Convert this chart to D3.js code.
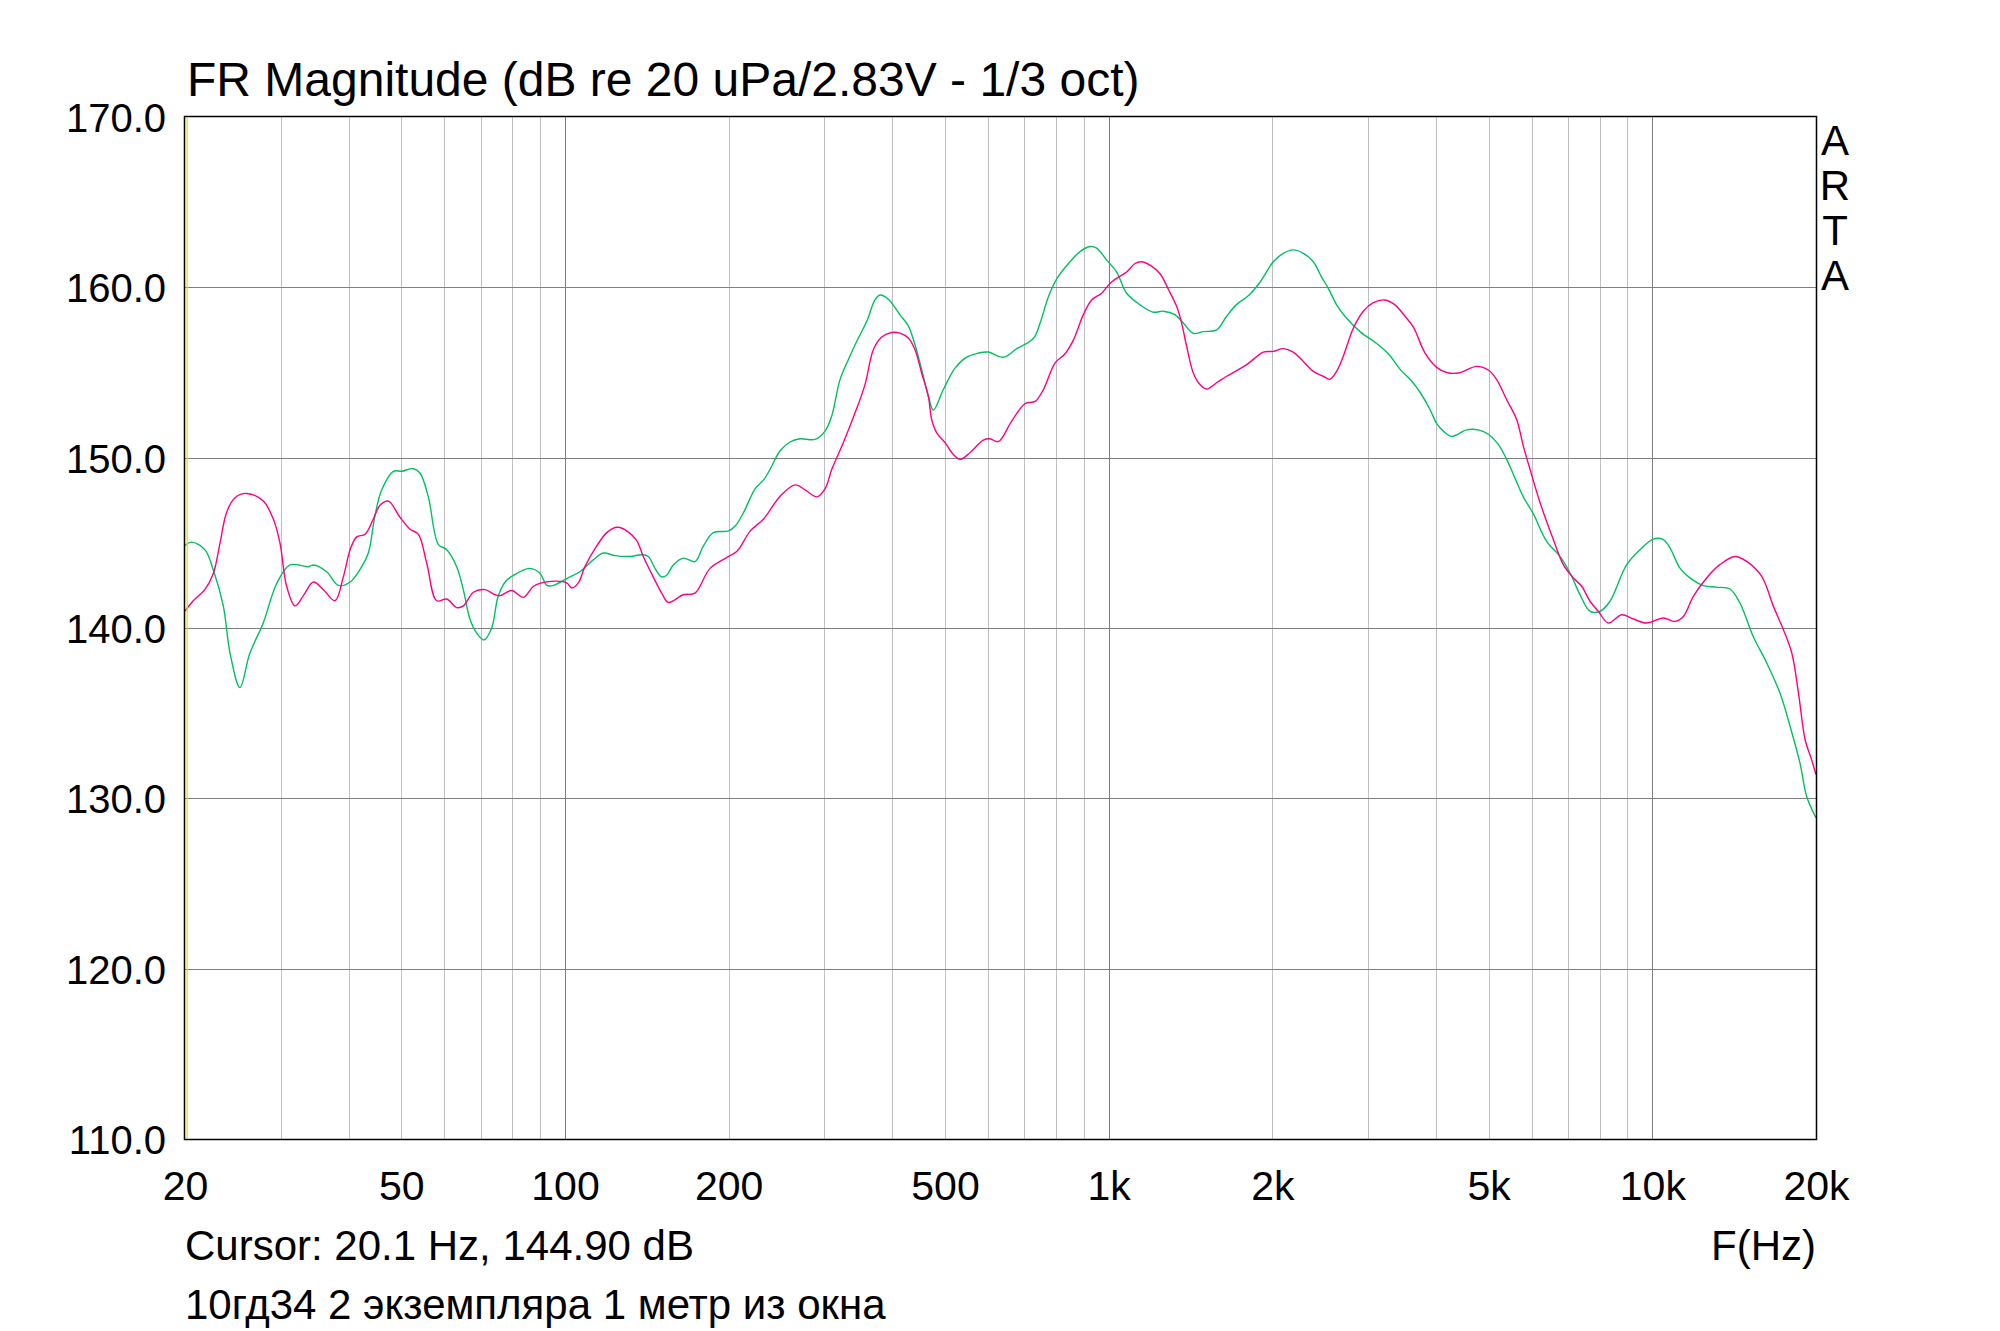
<!DOCTYPE html>
<html>
<head>
<meta charset="utf-8">
<script src="https://cdn.jsdelivr.net/npm/d3@7"></script>
<style>
  html, body { margin: 0; padding: 0; background: #ffffff; }
  svg { display: block; }
  text { font-family: "Liberation Sans", Arial, sans-serif; fill: #000; }
</style>
</head>
<body>
<svg id="chart" width="2000" height="1331"></svg>
<script>
// ---------- data ----------
const titleText = "FR Magnitude (dB re 20 uPa/2.83V - 1/3 oct)";
const cursorText = "Cursor: 20.1 Hz, 144.90 dB";
const noteText = "10гд34 2 экземпляра 1 метр из окна";
const xAxisName = "F(Hz)";
const brandLetters = ["A", "R", "T", "A"];

const xTickValues = [20, 50, 100, 200, 500, 1000, 2000, 5000, 10000, 20000];
const xTickLabels = ["20", "50", "100", "200", "500", "1k", "2k", "5k", "10k", "20k"];
const yTickValues = [110, 120, 130, 140, 150, 160, 170];
const yTickLabels = ["110.0", "120.0", "130.0", "140.0", "150.0", "160.0", "170.0"];
const xMajorGrid = [100, 1000, 10000];
const cursorFreq = 20.1;

const greenFreq = [20, 20.57, 21.75, 22.55, 23.52, 24.21, 25.24, 26.31, 27.86, 29.48, 31.2, 33.73, 34.45, 36.45, 38.29, 40.25, 42.27, 43.48, 44.72, 46.0, 48.33, 50.05, 52.6, 54.1, 56.05, 58.5, 60.6, 63.2, 65.0, 66.9, 68.8, 70.96, 73.3, 75.4, 78.1, 81.5, 86.2, 90.0, 92.6, 95.2, 100.7, 106.5, 112.7, 117.6, 123.6, 131.7, 138.4, 142.3, 146.4, 150.6, 153.8, 158.2, 165.0, 173.4, 179.6, 187.4, 200, 205.8, 213.2, 223.9, 231.9, 238.2, 248.5, 259.3, 270.5, 288.1, 300.8, 309.4, 320.5, 332.0, 343.9, 358.8, 371.6, 379.6, 393.3, 413.2, 428.0, 440.3, 452.9, 465.9, 475.9, 496.5, 521.6, 548.1, 576, 600.7, 640.2, 677.6, 727, 747.9, 774.7, 802.5, 848.9, 885.7, 923.9, 950.4, 991.6, 1034.5, 1079, 1142, 1208, 1260, 1324, 1372, 1431, 1493, 1580, 1648, 1720, 1806, 1898, 2008, 2095, 2185, 2280, 2379, 2464, 2535, 2626, 2720, 2899, 3111, 3269, 3434, 3608, 3738, 3900, 4012, 4126, 4275, 4555, 4786, 5000, 5208, 5396, 5590, 5790, 6041, 6391, 6763, 7056, 7361, 7680, 8012, 8359, 8970, 9493, 10040, 10477, 10776, 11240, 11727, 12408, 13124, 13888, 14490, 15330, 16230, 17170, 17920, 18690, 19220, 20000];
const greenDb = [144.84, 145.04, 144.6, 143.4, 141.3, 138.5, 136.5, 138.5, 140.3, 142.6, 143.7, 143.6, 143.7, 143.3, 142.5, 142.7, 143.6, 144.4, 146.6, 148.1, 149.2, 149.2, 149.35, 149.1, 147.7, 144.9, 144.6, 143.6, 142.25, 140.5, 139.7, 139.3, 140.0, 141.9, 142.8, 143.2, 143.5, 143.2, 142.5, 142.5, 142.9, 143.3, 144.0, 144.4, 144.25, 144.2, 144.3, 144.2, 143.5, 143.0, 143.1, 143.7, 144.1, 143.9, 144.8, 145.6, 145.7, 146.0, 146.8, 148.2, 148.7, 149.3, 150.39, 150.92, 151.11, 151.07, 151.56, 152.44, 154.58, 155.75, 156.82, 157.99, 159.26, 159.55, 159.3, 158.38, 157.74, 156.63, 155.17, 153.61, 152.79, 154.0, 155.26, 155.9, 156.14, 156.2, 155.9, 156.4, 157.0, 157.9, 159.45, 160.5, 161.5, 162.1, 162.4, 162.3, 161.6, 160.9, 159.65, 158.97, 158.54, 158.6, 158.4, 157.9, 157.3, 157.4, 157.5, 158.3, 159.0, 159.5, 160.3, 161.5, 162.0, 162.2, 162.0, 161.5, 160.6, 159.94, 158.97, 158.3, 157.4, 156.7, 156.1, 155.2, 154.5, 153.84, 152.83, 152.0, 151.56, 151.25, 151.63, 151.63, 151.36, 150.78, 149.9, 148.8, 147.7, 146.7, 145.09, 144.2, 143.23, 141.96, 140.98, 140.98, 141.57, 143.72, 144.6, 145.22, 145.19, 144.7, 143.52, 142.94, 142.49, 142.4, 142.29, 141.47, 139.5, 137.95, 136.18, 134.23, 132.07, 130.12, 128.85];

const magentaFreq = [20, 20.71, 21.75, 22.55, 23.2, 23.86, 24.72, 25.97, 27.86, 29.07, 29.9, 30.76, 31.87, 33.02, 34.45, 35.94, 37.75, 39.11, 40.25, 41.39, 42.88, 44.41, 45.68, 47.32, 49.72, 51.87, 53.74, 55.68, 58.07, 60.6, 63.2, 65.0, 67.84, 71.28, 74.36, 75.95, 79.8, 83.8, 87.5, 90.6, 96.5, 100.7, 102.9, 105.8, 108.8, 114.3, 119.3, 123.6, 126.2, 129.9, 135.4, 139.3, 145.3, 150.6, 154.9, 165.0, 173.4, 184.8, 200, 207.2, 219.2, 231.9, 248.9, 265.2, 276.8, 290.7, 301.1, 309.4, 325, 341.6, 356.3, 369.1, 382.4, 399.0, 413.2, 428, 440.3, 452.9, 465.9, 472.5, 482.7, 500.1, 518, 532.8, 555.7, 588, 604.9, 626.7, 663.1, 702, 732.3, 758.5, 797, 831.3, 861.1, 898.3, 930.5, 970.7, 1005, 1042, 1079, 1118, 1150, 1191, 1243, 1287, 1334, 1362, 1392, 1431, 1472, 1514, 1580, 1648, 1794, 1925, 2008, 2095, 2185, 2280, 2379, 2481, 2552, 2626, 2701, 2818, 2940, 3067, 3222, 3362, 3508, 3635, 3819, 4012, 4186, 4397, 4752, 5000, 5172, 5396, 5629, 5790, 5956, 6214, 6575, 6859, 7155, 7413, 7680, 7955, 8299, 8781, 9228, 9763, 10477, 11007, 11403, 11896, 12585, 13312, 14190, 14910, 15890, 16700, 17420, 18050, 18570, 19100, 19630, 20000];
const magentaDb = [141.0, 141.6, 142.25, 143.2, 145.0, 146.8, 147.65, 147.9, 147.45, 146.4, 145.0, 142.45, 141.3, 141.9, 142.7, 142.25, 141.6, 143.0, 144.6, 145.35, 145.5, 146.4, 147.2, 147.45, 146.5, 145.8, 145.5, 143.8, 141.6, 141.7, 141.2, 141.3, 142.1, 142.25, 141.95, 141.9, 142.2, 141.8, 142.45, 142.65, 142.75, 142.65, 142.35, 142.65, 143.6, 144.8, 145.6, 145.9, 145.9, 145.7, 145.15, 144.2, 143.0, 142.05, 141.5, 141.95, 142.05, 143.5, 144.2, 144.5, 145.7, 146.4, 147.75, 148.4, 148.1, 147.7, 148.2, 149.3, 150.88, 152.63, 154.29, 156.34, 157.08, 157.35, 157.31, 157.02, 156.34, 154.97, 153.61, 152.24, 151.46, 150.88, 150.19, 149.9, 150.29, 151.03, 151.11, 150.94, 152.14, 153.18, 153.3, 154.0, 155.56, 156.1, 156.9, 158.4, 159.26, 159.65, 160.23, 160.6, 160.9, 161.4, 161.5, 161.3, 160.8, 159.9, 158.87, 157.9, 156.5, 154.97, 154.29, 154.03, 154.4, 154.78, 155.46, 156.2, 156.24, 156.4, 156.2, 155.65, 155.07, 154.78, 154.6, 155.07, 155.95, 157.6, 158.6, 159.1, 159.26, 158.97, 158.3, 157.66, 156.14, 155.3, 155.0, 154.97, 155.36, 155.13, 154.58, 153.4, 152.24, 150.68, 149.32, 147.37, 145.19, 143.72, 142.94, 142.45, 141.57, 140.98, 140.29, 140.78, 140.53, 140.29, 140.59, 140.39, 140.68, 141.86, 142.94, 143.72, 144.2, 143.91, 143.03, 141.27, 139.9, 138.53, 136.18, 133.44, 132.27, 131.39];

// ---------- layout ----------
const plot = { left: 185, right: 1816, top: 117, bottom: 1139 };

const svg = d3.select("#chart");
const x = d3.scaleLog().domain([20, 20000]).range([plot.left, plot.right]);
const y = d3.scaleLinear().domain([110, 170]).range([plot.bottom, plot.top]);

// grid: minor verticals
const gridFreqs = x.ticks().filter(f => f > 20 && f < 20000 && xMajorGrid.indexOf(f) < 0);
svg.append("g").selectAll("line").data(gridFreqs).join("line")
  .attr("x1", d => Math.round(x(d)) + 0.5).attr("x2", d => Math.round(x(d)) + 0.5)
  .attr("y1", plot.top).attr("y2", plot.bottom)
  .attr("stroke", "#c0c0c0").attr("stroke-width", 1);

// major verticals
svg.append("g").selectAll("line").data(xMajorGrid).join("line")
  .attr("x1", d => Math.round(x(d)) + 0.5).attr("x2", d => Math.round(x(d)) + 0.5)
  .attr("y1", plot.top).attr("y2", plot.bottom)
  .attr("stroke", "#808080").attr("stroke-width", 1);

// horizontals
svg.append("g").selectAll("line").data(yTickValues.slice(1, -1)).join("line")
  .attr("x1", plot.left).attr("x2", plot.right)
  .attr("y1", d => Math.round(y(d)) + 0.5).attr("y2", d => Math.round(y(d)) + 0.5)
  .attr("stroke", "#808080").attr("stroke-width", 1);

// series
const line = d3.line()
  .x(d => x(d[0])).y(d => y(d[1]))
  .curve(d3.curveCatmullRom.alpha(0.5));

const greenPts = greenFreq.map((f, i) => [f, greenDb[i]]);
const magentaPts = magentaFreq.map((f, i) => [f, magentaDb[i]]);

svg.append("path").datum(greenPts).attr("d", line)
  .attr("fill", "none").attr("stroke", "#00c060").attr("stroke-width", 1.4);
svg.append("path").datum(magentaPts).attr("d", line)
  .attr("fill", "none").attr("stroke", "#ff0080").attr("stroke-width", 1.4);

// frame
svg.append("rect")
  .attr("x", plot.left - 0.5).attr("y", plot.top - 0.5)
  .attr("width", plot.right - plot.left + 1).attr("height", plot.bottom - plot.top + 1)
  .attr("fill", "none").attr("stroke", "#000").attr("stroke-width", 1.5);

// cursor
svg.append("line")
  .attr("x1", x(cursorFreq) + 1).attr("x2", x(cursorFreq) + 1)
  .attr("y1", plot.top + 1).attr("y2", plot.bottom - 1)
  .attr("stroke", "#e0e000").attr("stroke-width", 1.2);

// x axis labels
const xAxis = d3.axisBottom(x).tickValues(xTickValues)
  .tickFormat((d, i) => xTickLabels[i]).tickSize(0).tickPadding(0);
const gx = svg.append("g").attr("transform", `translate(0,${plot.bottom})`).call(xAxis);
gx.select(".domain").remove();
gx.selectAll("text").attr("font-size", 41).attr("dy", null).attr("y", 61)
  .attr("font-family", "Liberation Sans, Arial, sans-serif").attr("fill", "#000");

// y axis labels
const yAxis = d3.axisLeft(y).tickValues(yTickValues)
  .tickFormat((d, i) => yTickLabels[i]).tickSize(0).tickPadding(0);
const gy = svg.append("g").attr("transform", `translate(${plot.left - 19},0)`).call(yAxis);
gy.select(".domain").remove();
gy.selectAll("text").attr("font-size", 40).attr("dy", "0.36em").attr("x", 0)
  .attr("font-family", "Liberation Sans, Arial, sans-serif").attr("fill", "#000");

// title
svg.append("text").attr("x", 187).attr("y", 96).attr("font-size", 48).text(titleText);

// ARTA
svg.append("g").selectAll("text").data(brandLetters).join("text")
  .attr("x", 1835).attr("y", (d, i) => 155 + i * 45)
  .attr("text-anchor", "middle").attr("font-size", 42).text(d => d);

// bottom texts
svg.append("text").attr("x", plot.left).attr("y", 1260).attr("font-size", 42).text(cursorText);
svg.append("text").attr("x", plot.right).attr("y", 1260).attr("font-size", 42)
  .attr("text-anchor", "end").text(xAxisName);
svg.append("text").attr("x", plot.left).attr("y", 1319).attr("font-size", 42).text(noteText);
</script>
</body>
</html>
